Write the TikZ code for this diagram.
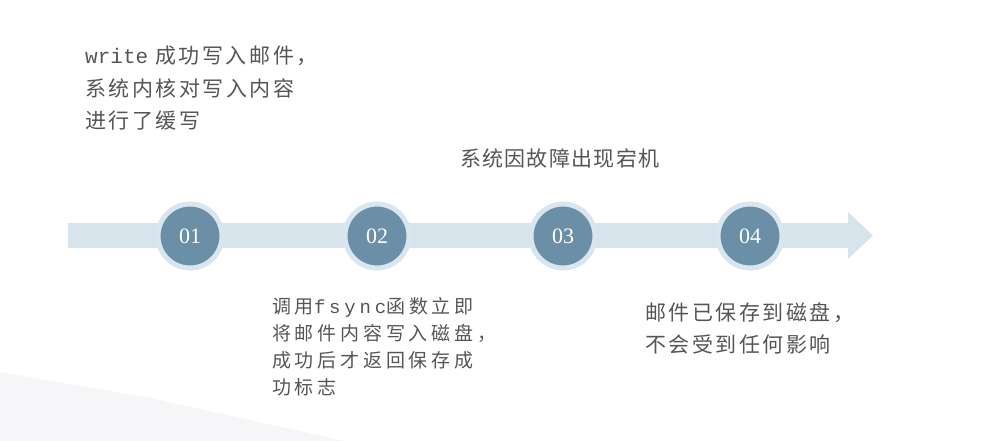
\documentclass[tikz,border=0pt]{standalone}
\usepackage{fontspec}
\setmainfont{Noto Sans CJK SC}
\newfontfamily\numfont{Liberation Serif}
\newfontfamily\codefont{Liberation Mono}
\newfontfamily\widecode[LetterSpace=20]{Liberation Mono}
\usetikzlibrary{positioning}
\definecolor{bandblue}{HTML}{D7E4EC}
\definecolor{ringblue}{HTML}{D9E6EF}
\definecolor{dotblue}{HTML}{6B8FA7}
\definecolor{notegray}{HTML}{555555}
\definecolor{hazegray}{HTML}{F6F6F9}
\tikzset{x=1pt, y=-1pt,
stepdot/.style={
circle,
minimum size=64pt,
line width=5pt,
draw=ringblue,
fill=dotblue,
text=white,
font=\numfont\fontsize{22}{22}\selectfont},
note/.style={
anchor=north west,
inner sep=0pt,
align=left,
text=notegray,
font=\fontsize{21}{32.5}\selectfont\addfontfeatures{LetterSpace=12}}}

\begin{document}
\begin{tikzpicture}
\useasboundingbox (0,0) rectangle (985,441);
\fill[hazegray] (0,372) -- (150,398) -- (345,441) -- (0,441) -- cycle;
\fill[bandblue] (68,223) -- (848,223) -- (848,212) -- (873,235.5) -- (848,259) -- (848,248) -- (68,248) -- cycle;
\node[stepdot] (01) at (190,236) {01};
\node[stepdot] (02) at (377,236) {02};
\node[stepdot] (03) at (563,236) {03};
\node[stepdot] (04) at (750,236) {04};
\node[note] (cache) at (85,46) {{\codefont write} 成功写入邮件，\\系统内核对写入内容\\进行了缓写};
\node[note, font=\fontsize{21}{32}\selectfont\addfontfeatures{LetterSpace=6}] (crash) at (460,149) {系统因故障出现宕机};
\node[note, font=\fontsize{19}{27}\selectfont\addfontfeatures{LetterSpace=20}] (fsync) at (272,297)
  {调用{\widecode fsync}函数立即\\将邮件内容写入磁盘，\\成功后才返回保存成\\功标志};
\node[note] (saved) at (645,302) {邮件已保存到磁盘，\\不会受到任何影响};
\end{tikzpicture}
\end{document}
